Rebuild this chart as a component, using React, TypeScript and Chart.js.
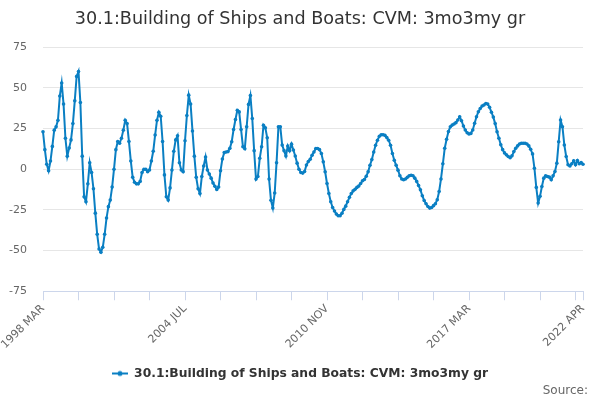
import { useEffect, useRef } from "react"
import { Chart, registerables, type ChartConfiguration } from "chart.js"

Chart.register(...registerables)

const SERIES_NAME = "30.1:Building of Ships and Boats: CVM: 3mo3my gr"
const LINE_COLOR = "#0a7fc3"

const MONTHS = ["JAN", "FEB", "MAR", "APR", "MAY", "JUN", "JUL", "AUG", "SEP", "OCT", "NOV", "DEC"]

// 1998 MAR .. 2003 DEC
const values1998to2003 = [
  23, 12, 3, -1, 5, 14, 24, 26, 30, 45,
  53, 40, 19, 8, 13, 18, 28, 42, 57, 60,
  41, 8, -17, -20, -9, 4, -2, -12, -27, -40,
  -49, -51, -48, -40, -30, -23, -19, -11, 0, 12,
  17, 16, 19, 24, 30, 28, 17, 5, -5, -8,
  -9, -9, -7.5, -2, 0, 0, -1.5, -0.5, 5, 11,
  21, 30, 35, 32.5, 17, -3.5, -17, -19, -11.5, -0.5,
]

// 2004 JAN .. 2009 DEC
const values2004to2009 = [
  11, 18, 20.5, 4, -0.5, -1.5, 17.5, 33, 45.5, 40,
  23.5, 8, -5, -12, -15, -4.5, 2, 7.5, -0.5, -3,
  -5.5, -8.5, -10.5, -12.5, -11, -1, 6.3, 10.2, 10.6, 10.8,
  12.8, 16.9, 24.4, 30.5, 36.2, 35.2, 24.4, 13.8, 12.6, 26,
  39.8, 45.3, 31.1, 11.4, -6.1, -4.5, 6.7, 13.8, 27, 25.4,
  19.3, -6.1, -19.1, -23.8, -14.6, 4, 26, 26, 14.8, 11.4,
  8.1, 14.2, 11.4, 15.4, 11.8, 8.1, 3.7, 0, -2, -2.4,
  -1.4, 2.6,
]

// 2010 JAN .. 2015 DEC
const values2010to2015 = [
  4.7, 6.1, 8.6, 10.6, 12.7, 12.7, 12, 9.6, 4.5, -1.6,
  -8.8, -14.9, -20, -23.5, -25.7, -27.6, -28.6, -28.6, -27.1, -24.7,
  -22.7, -20, -17.3, -14.9, -13.3, -12.4, -11.2, -10.4, -8.8, -7.1,
  -6.3, -4.3, -1.6, 2.4, 5.9, 10.6, 14.7, 17.8, 20.2, 21.2,
  21.2, 20.8, 19.4, 17.8, 14.7, 9.6, 5.5, 2.4, -0.6, -4,
  -6, -6.5, -6, -5, -4, -3.7, -4, -5.5, -7.5, -10,
  -12.7, -16.3, -19.2, -21.2, -22.9, -23.9, -23.5, -22.4, -21.2, -18.8,
  -13.7, -6,
]

// 2016 JAN .. 2022 APR
const values2016to2022 = [
  3.3, 12.9, 18.4, 23.1, 26.1, 27.1, 27.8, 28.6, 30.2, 32.2,
  29.8, 26.5, 24.1, 22.4, 21.6, 22, 24.1, 28.2, 32.2, 35.3,
  37.3, 38.8, 39.4, 40.4, 40, 38, 35, 32, 28, 23,
  19, 15, 12, 10, 8.8, 7.8, 7.1, 8.2, 10.8, 12.9,
  14.3, 15.5, 15.9, 15.9, 15.9, 15.5, 14.3, 12.2, 9.4, 0.6,
  -11.2, -20.8, -16.7, -10.6, -5.5, -4.1, -4.5, -4.9, -6.5, -4.1,
  -1.4, 3.7, 16.9, 30.2, 26.1, 14.9, 7.8, 2.7, 2, 3.3,
  5.1, 2.7, 5.3, 3.3, 4.1, 3,
]

const values = [...values1998to2003, ...values2004to2009, ...values2010to2015, ...values2016to2022]

// month labels from 1998 MAR, one per value
const labels = values.map((_, i) => {
  const m = 2 + i
  return `${1998 + Math.floor(m / 12)} ${MONTHS[m % 12]}`
})

const yTicks = [-75, -50, -25, 0, 25, 50, 75]

function legendSymbol() {
  const c = document.createElement("canvas")
  c.width = 16
  c.height = 8
  const g = c.getContext("2d")
  if (g) {
    g.strokeStyle = LINE_COLOR
    g.lineWidth = 2
    g.beginPath()
    g.moveTo(0, 4)
    g.lineTo(16, 4)
    g.stroke()
    g.fillStyle = LINE_COLOR
    g.beginPath()
    g.arc(8, 4, 2.5, 0, Math.PI * 2)
    g.fill()
  }
  return c
}

export default function App() {
  const canvasRef = useRef<HTMLCanvasElement>(null)
  const chartRef = useRef<Chart | null>(null)

  useEffect(() => {
    document.body.style.margin = "0"
    if (!canvasRef.current) return
    if (chartRef.current) chartRef.current.destroy()

    Chart.defaults.font.family = "'DejaVu Sans', sans-serif"
    const last = labels.length - 1

    const config: ChartConfiguration = {
      type: "line",
      data: {
        labels,
        datasets: [
          {
            label: SERIES_NAME,
            data: values,
            borderColor: LINE_COLOR,
            backgroundColor: LINE_COLOR,
            borderWidth: 2,
            pointRadius: 1.8,
            pointBorderWidth: 0,
            tension: 0,
            fill: false,
          },
        ],
      },
      options: {
        animation: false,
        responsive: true,
        maintainAspectRatio: false,
        layout: { padding: { left: 5, right: 5, top: 0, bottom: 10.4 } },
        plugins: {
          title: {
            display: true,
            text: SERIES_NAME,
            color: "#333333",
            font: { size: 17.6, weight: "normal" },
            padding: { top: 9, bottom: 17 },
          },
          legend: {
            position: "bottom",
            labels: {
              usePointStyle: true,
              pointStyle: legendSymbol(),
              pointStyleWidth: 16,
              color: "#333333",
              font: { size: 12.3, weight: "bold" },
              padding: 6,
            },
          },
          tooltip: { enabled: false },
        },
        scales: {
          x: {
            offset: false,
            grid: { drawOnChartArea: false, color: "#ccd6eb", tickLength: 9 },
            border: { color: "#ccd6eb" },
            afterFit: (axis) => {
              axis.paddingLeft = 0
              axis.paddingRight = 0
              axis.height += 8
            },
            ticks: {
              autoSkip: false,
              minRotation: 45,
              maxRotation: 45,
              color: "#666666",
              font: { size: 11 },
              padding: 2,
              callback: (_v, index) => {
                if (index % 76 === 0 || index === last) return labels[index]
                if (index % 19 === 0) return ""
                return null
              },
            },
          },
          y: {
            min: yTicks[0],
            max: yTicks[yTicks.length - 1],
            grid: { color: "#e6e6e6", drawTicks: false },
            border: { display: false },
            afterBuildTicks: (axis) => {
              axis.ticks = yTicks.map((v) => ({ value: v }))
            },
            afterFit: (axis) => {
              axis.width = 38
            },
            ticks: {
              color: "#666666",
              font: { size: 11 },
              padding: 16,
            },
          },
          // empty right-hand axis, only keeps a margin on the right of the plot
          pad: {
            type: "linear",
            position: "right",
            grid: { display: false },
            border: { display: false },
            ticks: { display: false },
            afterFit: (axis) => {
              axis.width = 12
            },
          },
        },
      },
    }

    chartRef.current = new Chart(canvasRef.current, config)

    return () => {
      if (chartRef.current) {
        chartRef.current.destroy()
        chartRef.current = null
      }
    }
  }, [])

  return (
    <div style={{ width: 600, height: 400, position: "relative", fontFamily: "'DejaVu Sans', sans-serif" }}>
      <canvas ref={canvasRef}></canvas>
      <div
        style={{
          position: "absolute",
          right: 12,
          top: 382,
          fontSize: 12,
          lineHeight: "16px",
          color: "#666666",
        }}
      >
        Source:
      </div>
    </div>
  )
}
